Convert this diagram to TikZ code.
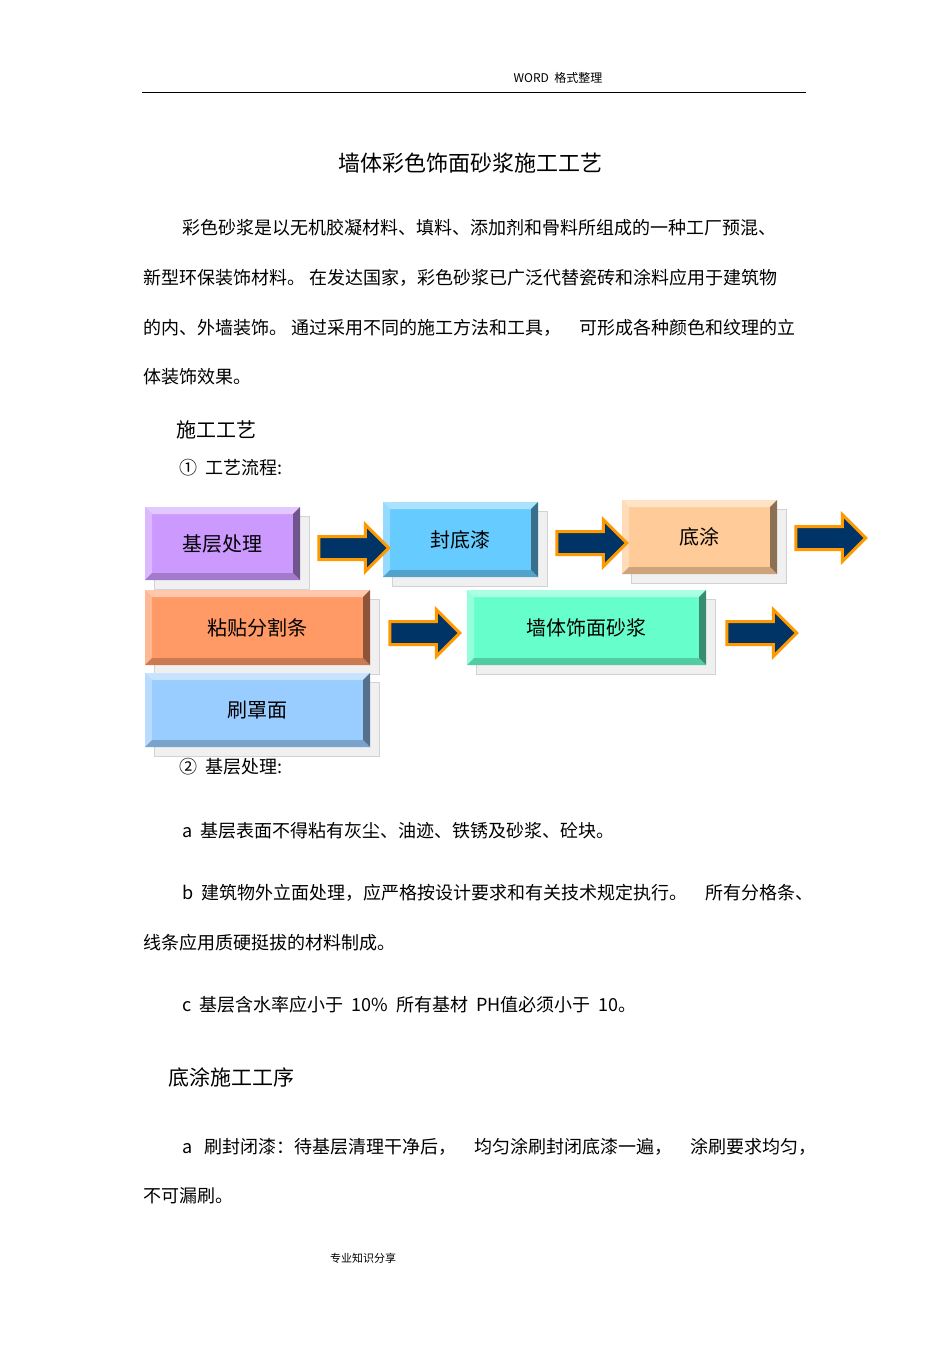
\documentclass[tikz,border=0pt]{standalone}
\usepackage{fontspec}
\setmainfont{Liberation Sans}
\newfontfamily\cjk{Noto Sans CJK SC}
\usetikzlibrary{shapes.arrows}
\definecolor{navy}{HTML}{003366}
\definecolor{aro}{HTML}{FF9900}
\definecolor{c1}{HTML}{CC99FF}
\definecolor{c2}{HTML}{66CCFF}
\definecolor{c3}{HTML}{FFCC99}
\definecolor{c4}{HTML}{FF9966}
\definecolor{c5}{HTML}{66FFCC}
\definecolor{c6}{HTML}{99CCFF}
\newcommand\bev[7]{%
 \fill[gray!12,draw=gray!35] (#2+9,#3+9) rectangle (#4+9,#5+9);
 \fill[#6] (#2,#3) rectangle (#4,#5);
 \fill[#6!55!white] (#2,#3)--(#4,#3)--(#4-7,#3+7)--(#2+7,#3+7)--cycle;
 \fill[#6!70!white] (#2,#3)--(#2+7,#3+7)--(#2+7,#5-7)--(#2,#5)--cycle;
 \fill[#6!55!black] (#4,#3)--(#4-7,#3+7)--(#4-7,#5-7)--(#4,#5)--cycle;
 \fill[#6!80!black] (#2,#5)--(#2+7,#5-7)--(#4-7,#5-7)--(#4,#5)--cycle;
 \node[font=\cjk\fontsize{20}{24}\selectfont] (#1) at ({(#2+#4)/2},{(#3+#5)/2}) {#7};}
\tikzset{arr/.style={single arrow,fill=navy,draw=aro,line width=3pt,minimum height=70pt,minimum width=46pt,single arrow head extend=12pt,inner sep=0pt},
 txt/.style={anchor=west,font=\cjk\fontsize{18}{21}\selectfont,inner sep=0pt}}
\newcommand\shaft{\rule{0pt}{20pt}}
\begin{document}
\begin{tikzpicture}[x=1pt,y=-1pt]
\useasboundingbox (0,0) rectangle (950,1345);
\node[font=\cjk\fontsize{12}{14}\selectfont] (hd) at (558,78) {WORD\ \ 格式整理};
\draw[line width=0.8pt] (142,92) coordinate (l1) -- (806,92) coordinate (l2);
\node[font=\cjk\fontsize{22}{26}\selectfont] (title) at (470,163) {墙体彩色饰面砂浆施工工艺};
\node[txt] (p1) at (182,228) {彩色砂浆是以无机胶凝材料、填料、添加剂和骨料所组成的一种工厂预混、};
\node[txt] (p2) at (143,278) {新型环保装饰材料。 在发达国家，彩色砂浆已广泛代替瓷砖和涂料应用于建筑物};
\node[txt] (p3) at (143,328) {的内、外墙装饰。 通过采用不同的施工方法和工具，\quad 可形成各种颜色和纹理的立};
\node[txt] (p4) at (143,377) {体装饰效果。};
\node[txt,font=\cjk\fontsize{20}{24}\selectfont] (h1) at (176,430) {施工工艺};
\node[txt] (s1) at (179,468) {①\ \ 工艺流程:};
\bev{b1}{145}{507}{300}{580}{c1}{基层处理}
\bev{b2}{383}{502}{538}{577}{c2}{封底漆}
\bev{b3}{622}{500}{777}{574}{c3}{底涂}
\bev{b4}{145}{590}{370}{665}{c4}{粘贴分割条}
\bev{b5}{467}{590}{706}{665}{c5}{墙体饰面砂浆}
\bev{b6}{145}{673}{370}{747}{c6}{刷罩面}
\node[arr] (a1) at (348,548) {\shaft};
\node[arr] (a2) at (586,543) {\shaft};
\node[arr] (a3) at (825,538) {\shaft};
\node[arr] (a4) at (419,633) {\shaft};
\node[arr] (a5) at (756,633) {\shaft};
\node[txt] (s2) at (179,767) {②\ \ 基层处理:};
\node[txt] (pa) at (182,831) {a\ \ 基层表面不得粘有灰尘、油迹、铁锈及砂浆、砼块。};
\node[txt] (pb) at (182,893) {b\ \ 建筑物外立面处理，应严格按设计要求和有关技术规定执行。\quad 所有分格条、};
\node[txt] (pb2) at (143,943) {线条应用质硬挺拔的材料制成。};
\node[txt] (pc) at (182,1005) {c\ \ 基层含水率应小于\ \ 10\%\ \ 所有基材\ \ PH值必须小于\ \ 10。};
\node[txt,font=\cjk\fontsize{21}{25}\selectfont] (h2) at (168,1077) {底涂施工工序};
\node[txt] (pd) at (182,1147) {a\ \ \ 刷封闭漆：待基层清理干净后，\quad 均匀涂刷封闭底漆一遍，\quad 涂刷要求均匀，};
\node[txt] (pd2) at (143,1196) {不可漏刷。};
\node[font=\cjk\fontsize{11}{13}\selectfont] (ft) at (363,1258) {专业知识分享};
\end{tikzpicture}
\end{document}
